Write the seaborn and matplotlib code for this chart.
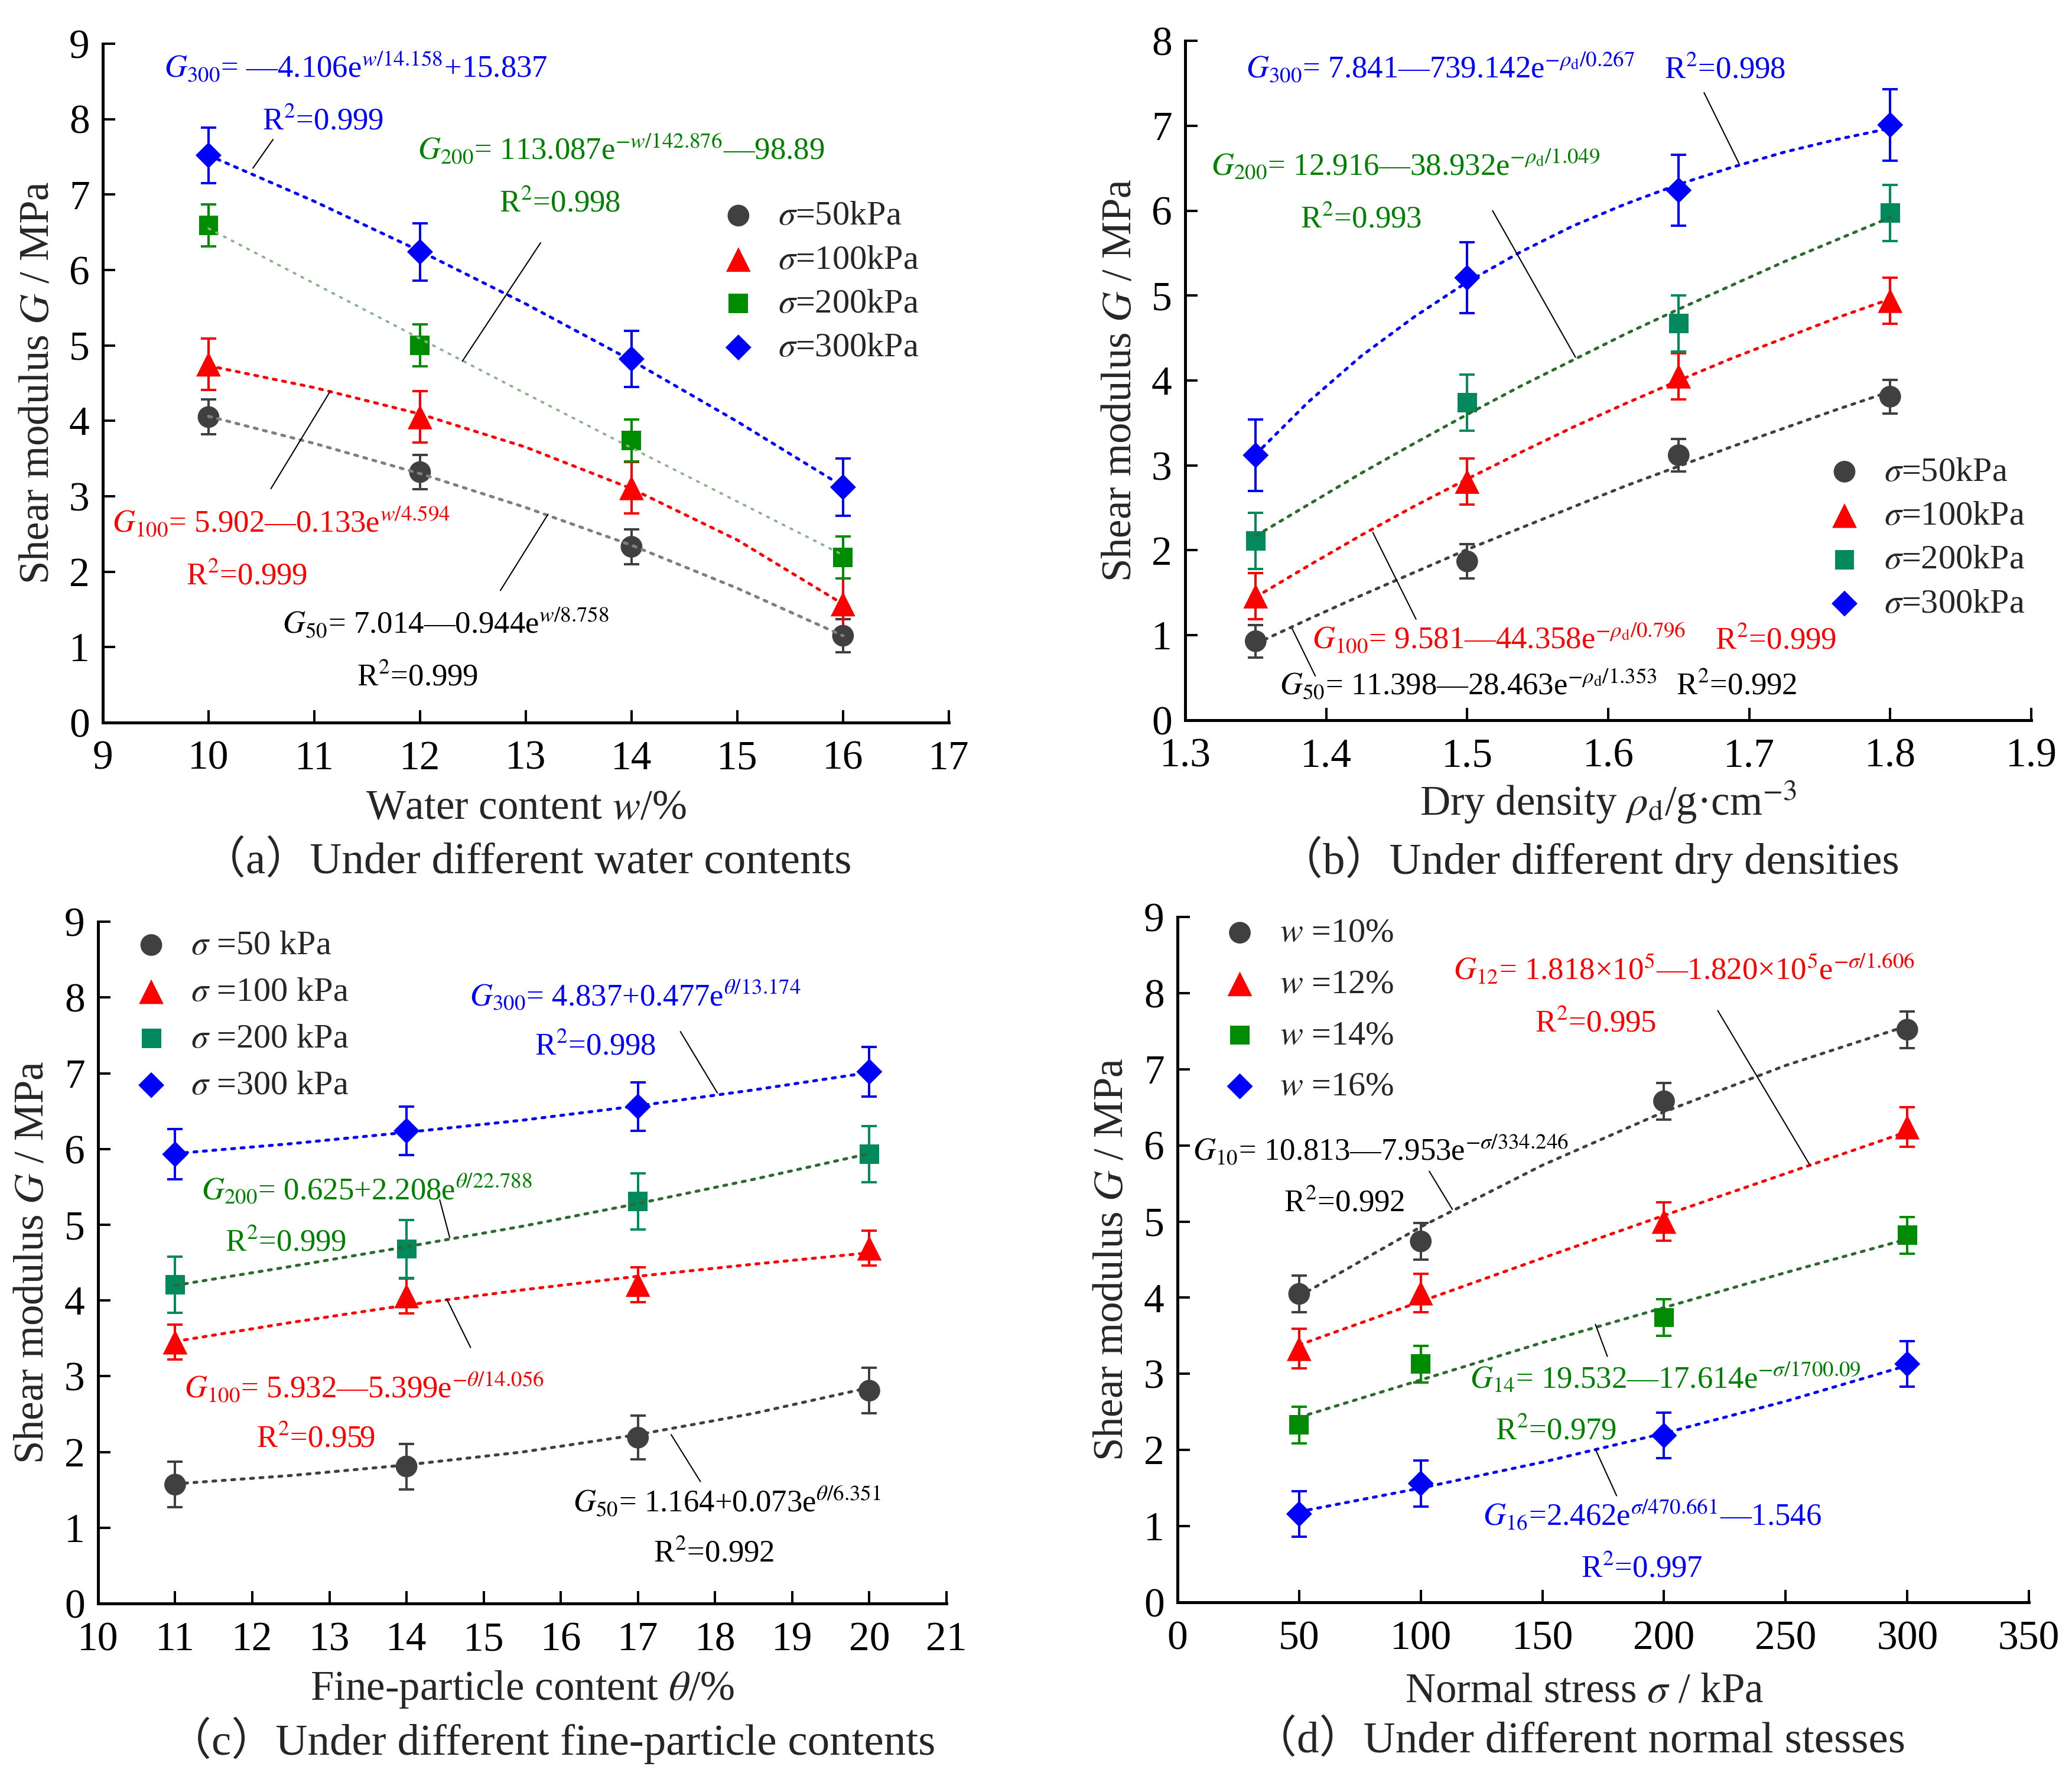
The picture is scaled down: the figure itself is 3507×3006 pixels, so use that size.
import matplotlib
matplotlib.use("Agg")
import matplotlib.pyplot as plt
import seaborn as sns

# ================= (a) different water contents =================
a_x = [10, 12, 14, 16]
a_g50 = [4.05, 3.32, 2.33, 1.15]
a_g100 = [4.75, 4.05, 3.11, 1.57]
a_g200 = [6.59, 5.00, 3.74, 2.19]
a_g300 = [7.52, 6.24, 4.82, 3.12]
a_e50 = [0.23, 0.23, 0.23, 0.22]
a_e100 = [0.34, 0.34, 0.34, 0.34]
a_e200 = [0.28, 0.28, 0.28, 0.28]
a_e300 = [0.37, 0.38, 0.37, 0.38]
a_fx = [10, 11, 12, 13, 14, 15, 16]
a_f50 = [4.06, 3.70, 3.30, 2.85, 2.35, 1.78, 1.15]
a_f100 = [4.73, 4.44, 4.09, 3.65, 3.10, 2.42, 1.57]
a_f200 = [6.55, 5.82, 5.09, 4.36, 3.64, 2.93, 2.22]
a_f300 = [7.52, 6.91, 6.25, 5.55, 4.80, 3.99, 3.13]
a_xticks = [9, 10, 11, 12, 13, 14, 15, 16, 17]
a_yticks = [0, 1, 2, 3, 4, 5, 6, 7, 8, 9]

# ================= (b) different dry densities =================
b_x = [1.35, 1.50, 1.65, 1.80]
b_g50 = [0.93, 1.87, 3.12, 3.81]
b_g100 = [1.46, 2.81, 4.05, 4.94]
b_g200 = [2.11, 3.74, 4.67, 5.97]
b_g300 = [3.12, 5.21, 6.24, 7.01]
b_e50 = [0.19, 0.20, 0.19, 0.20]
b_e100 = [0.27, 0.27, 0.27, 0.27]
b_e200 = [0.33, 0.33, 0.33, 0.33]
b_e300 = [0.42, 0.42, 0.42, 0.42]
b_fx = [1.35, 1.3875, 1.425, 1.4625, 1.5, 1.5375, 1.575, 1.6125, 1.65, 1.6875, 1.725, 1.7625, 1.8]
b_f50 = [0.90, 1.19, 1.47, 1.74, 2.01, 2.26, 2.51, 2.76, 2.99, 3.22, 3.44, 3.66, 3.87]
b_f100 = [1.45, 1.82, 2.18, 2.52, 2.84, 3.15, 3.45, 3.73, 4.00, 4.26, 4.50, 4.74, 4.96]
b_f200 = [2.17, 2.54, 2.91, 3.26, 3.60, 3.93, 4.24, 4.55, 4.84, 5.12, 5.40, 5.66, 5.92]
b_f300 = [3.13, 3.75, 4.29, 4.75, 5.16, 5.51, 5.82, 6.08, 6.31, 6.51, 6.69, 6.84, 6.97]
b_xticks = [1.3, 1.4, 1.5, 1.6, 1.7, 1.8, 1.9]
b_xticklabels = ["1.3", "1.4", "1.5", "1.6", "1.7", "1.8", "1.9"]
b_yticks = [0, 1, 2, 3, 4, 5, 6, 7, 8]

# ================= (c) different fine-particle contents =================
c_x = [11, 14, 17, 20]
c_g50 = [1.57, 1.81, 2.19, 2.81]
c_g100 = [3.45, 4.06, 4.21, 4.69]
c_g200 = [4.21, 4.68, 5.31, 5.93]
c_g300 = [5.93, 6.24, 6.56, 7.02]
c_e50 = [0.30, 0.30, 0.29, 0.30]
c_e100 = [0.23, 0.23, 0.23, 0.23]
c_e200 = [0.37, 0.38, 0.37, 0.37]
c_e300 = [0.33, 0.32, 0.32, 0.33]
c_fx = [11, 12.5, 14, 15.5, 17, 18.5, 20]
c_f50 = [1.58, 1.69, 1.83, 2.00, 2.23, 2.51, 2.85]
c_f100 = [3.46, 3.71, 3.94, 4.14, 4.32, 4.48, 4.63]
c_f200 = [4.20, 4.45, 4.71, 4.98, 5.28, 5.60, 5.94]
c_f300 = [5.94, 6.07, 6.22, 6.38, 6.57, 6.78, 7.01]
c_xticks = [10, 11, 12, 13, 14, 15, 16, 17, 18, 19, 20, 21]
c_yticks = [0, 1, 2, 3, 4, 5, 6, 7, 8, 9]

# ================= (d) different normal stresses =================
d_x = [50, 100, 200, 300]
d_g10 = [4.05, 4.74, 6.58, 7.52]
d_g12 = [3.33, 4.06, 5.00, 6.24]
d_g14 = [2.33, 3.13, 3.74, 4.82]
d_g16 = [1.16, 1.56, 2.19, 3.13]
d_e10 = [0.24, 0.24, 0.24, 0.24]
d_e12 = [0.26, 0.25, 0.25, 0.26]
d_e14 = [0.24, 0.24, 0.24, 0.24]
d_e16 = [0.30, 0.30, 0.30, 0.30]
d_fx = [50, 100, 150, 200, 250, 300]
d_f10 = [4.02, 4.93, 5.74, 6.44, 7.05, 7.57]
d_f12 = [3.38, 3.95, 4.52, 5.08, 5.63, 6.18]
d_f14 = [2.43, 2.92, 3.41, 3.87, 4.33, 4.77]
d_f16 = [1.19, 1.50, 1.84, 2.22, 2.64, 3.11]
d_xticks = [0, 50, 100, 150, 200, 250, 300, 350]
d_yticks = [0, 1, 2, 3, 4, 5, 6, 7, 8, 9]

# legend labels
abs_labels = [r"$\sigma$=50kPa", r"$\sigma$=100kPa", r"$\sigma$=200kPa", r"$\sigma$=300kPa"]
c_labels = [r"$\sigma$ =50 kPa", r"$\sigma$ =100 kPa", r"$\sigma$ =200 kPa", r"$\sigma$ =300 kPa"]
d_labels = [r"$w$ =10%", r"$w$ =12%", r"$w$ =14%", r"$w$ =16%"]

# ---------------- style ----------------
sns.set_theme(style="ticks")
plt.rcParams["font.family"] = ["Liberation Serif", "Noto Sans CJK SC"]
plt.rcParams["mathtext.fontset"] = "stix"
plt.rcParams["axes.facecolor"] = "white"

BLUE = "#0000FF"
RED = "#FF0000"
GRAY = "#404040"
GREEN = "#008C00"
TEAL = "#03895E"
DKGREEN = "#2B6B2B"
TGREEN = "#008000"
BLACK = "#000000"

MARKERS = ["o", "^", "s", "D"]
SIZES = [700, 900, 560, 500]
DASH = (0, (1.0, 2.2))

TICK_FS = 50
LABEL_FS = 51
LEG_FS = 42
ANN_FS = 38
CAP_FS = 54

fig = plt.figure(figsize=(35.07, 30.06), dpi=100)


def panel(rect, x, ys, es, fx, fys, mcols, lcols, lstyles, labels,
          xlim, xticks, xticklabels, ylim, yticks, xlabel, xlab_pos,
          leg_anchor, leg_spacing, leg_textpad, texts, leaders):
    ax = fig.add_axes(rect)
    for y, e, c in zip(ys, es, mcols):
        ax.errorbar(x, y, yerr=e, fmt="none", ecolor=c, elinewidth=2.9,
                    capsize=9.5, capthick=2.9, zorder=2)
    for y, c, m, s, lab in zip(ys, mcols, MARKERS, SIZES, labels):
        sns.scatterplot(x=x, y=y, ax=ax, color=c, marker=m, s=s,
                        linewidth=0, edgecolor="none", label=lab, zorder=3)
    for fy, lc, (lw, ls) in zip(fys, lcols, lstyles):
        sns.lineplot(x=fx, y=fy, ax=ax, color=lc, linewidth=lw, linestyle=ls,
                     dash_capstyle="round", errorbar=None, zorder=4,
                     label="_nolegend_")
    for (x1, y1, x2, y2) in leaders:
        ax.plot([x1, x2], [y1, y2], color=BLACK, lw=1.5, zorder=5)
    for (t, tx, ty, tc) in texts:
        ax.text(tx, ty, t, color=tc, fontsize=ANN_FS, ha="left", va="baseline", zorder=6)

    ax.set_xlim(*xlim)
    ax.set_ylim(*ylim)
    ax.set_xticks(xticks)
    if xticklabels is not None:
        ax.set_xticklabels(xticklabels)
    ax.set_yticks(yticks)
    for side in ["top", "right"]:
        ax.spines[side].set_visible(False)
    for side in ["left", "bottom"]:
        ax.spines[side].set_linewidth(3.6)
        ax.spines[side].set_color("black")
    ax.tick_params(axis="both", direction="in", length=15, width=2.9,
                   labelsize=TICK_FS, colors="black")
    ax.tick_params(axis="x", pad=22)
    ax.tick_params(axis="y", pad=16)
    ax.set_ylabel(r"Shear modulus $G$ / MPa", fontsize=LABEL_FS, va="center")
    ax.yaxis.set_label_coords(-0.077, 0.5)
    ax.set_xlabel(xlabel, fontsize=LABEL_FS, va="center")
    ax.xaxis.set_label_coords(*xlab_pos)
    ax.grid(False)
    ax.legend(loc="upper left", bbox_to_anchor=leg_anchor, frameon=False,
              fontsize=LEG_FS, handlelength=1.0, handletextpad=leg_textpad,
              labelspacing=leg_spacing, borderpad=0, borderaxespad=0,
              scatterpoints=1)
    return ax


STD = (3.6, DASH)
LIGHT = (2.8, (0, (0.8, 3.0)))

# ---------- (a) ----------
panel([0.0496, 0.5932, 0.4083, 0.3822], a_x,
      [a_g50, a_g100, a_g200, a_g300], [a_e50, a_e100, a_e200, a_e300],
      a_fx, [a_f50, a_f100, a_f200, a_f300],
      [GRAY, RED, GREEN, BLUE], ["#7F7F7F", RED, "#8DB38D", BLUE],
      [STD, STD, LIGHT, STD], abs_labels,
      (9, 17), a_xticks, None, (0, 9), a_yticks,
      r"Water content $w$/%", (0.5, -0.126),
      (0.731, 0.769), 0.37, 0.65,
      [(r"$G_{300}$= —4.106e$^{w/14.158}$+15.837", 9.58, 8.55, BLUE),
       (r"R$^{2}$=0.999", 10.51, 7.86, BLUE),
       (r"$G_{200}$= 113.087e$^{-w/142.876}$—98.89", 11.98, 7.46, TGREEN),
       (r"R$^{2}$=0.998", 12.75, 6.77, TGREEN),
       (r"$G_{100}$= 5.902—0.133e$^{w/4.594}$", 9.09, 2.52, RED),
       (r"R$^{2}$=0.999", 9.79, 1.83, RED),
       (r"$G_{50}$= 7.014—0.944e$^{w/8.758}$", 10.70, 1.18, BLACK),
       (r"R$^{2}$=0.999", 11.40, 0.49, BLACK)],
      [(10.42, 7.35, 10.61, 7.73), (12.40, 4.79, 13.14, 6.36),
       (10.59, 3.10, 11.15, 4.39), (12.76, 1.75, 13.21, 2.76)])

# ---------- (b) ----------
panel([0.5720, 0.5945, 0.4083, 0.3825], b_x,
      [b_g50, b_g100, b_g200, b_g300], [b_e50, b_e100, b_e200, b_e300],
      b_fx, [b_f50, b_f100, b_f200, b_f300],
      [GRAY, RED, TEAL, BLUE], [GRAY, RED, DKGREEN, BLUE],
      [STD, STD, STD, STD], abs_labels,
      (1.3, 1.9), b_xticks, b_xticklabels, (0, 8), b_yticks,
      r"Dry density $\rho_{\mathrm{d}}$/g·cm$^{-3}$", (0.5, -0.121),
      (0.759, 0.388), 0.37, 0.65,
      [(r"$G_{300}$= 7.841—739.142e$^{-\rho_{\mathrm{d}}/0.267}$", 1.343, 7.56, BLUE),
       (r"R$^{2}$=0.998", 1.640, 7.56, BLUE),
       (r"$G_{200}$= 12.916—38.932e$^{-\rho_{\mathrm{d}}/1.049}$", 1.3186, 6.42, TGREEN),
       (r"R$^{2}$=0.993", 1.3815, 5.80, TGREEN),
       (r"$G_{100}$= 9.581—44.358e$^{-\rho_{\mathrm{d}}/0.796}$", 1.390, 0.84, RED),
       (r"R$^{2}$=0.999", 1.676, 0.84, RED),
       (r"$G_{50}$= 11.398—28.463e$^{-\rho_{\mathrm{d}}/1.353}$", 1.367, 0.30, BLACK),
       (r"R$^{2}$=0.992", 1.648, 0.30, BLACK)],
      [(1.668, 7.39, 1.6928, 6.555), (1.518, 6.00, 1.5768, 4.275),
       (1.4331, 2.21, 1.4637, 1.19), (1.3758, 1.08, 1.3923, 0.52)])

# ---------- (c) ----------
panel([0.0473, 0.0971, 0.4095, 0.3839], c_x,
      [c_g50, c_g100, c_g200, c_g300], [c_e50, c_e100, c_e200, c_e300],
      c_fx, [c_f50, c_f100, c_f200, c_f300],
      [GRAY, RED, TEAL, BLUE], [GRAY, RED, DKGREEN, BLUE],
      [STD, STD, STD, STD], c_labels,
      (10, 21), c_xticks, None, (0, 9), c_yticks,
      r"Fine-particle content $\theta$/%", (0.5, -0.126),
      (0.0425, 0.988), 0.45, 0.65,
      [(r"$G_{300}$= 4.837+0.477e$^{\theta/13.174}$", 14.82, 7.89, BLUE),
       (r"R$^{2}$=0.998", 15.66, 7.24, BLUE),
       (r"$G_{200}$= 0.625+2.208e$^{\theta/22.788}$", 11.34, 5.33, TGREEN),
       (r"R$^{2}$=0.999", 11.65, 4.65, TGREEN),
       (r"$G_{100}$= 5.932—5.399e$^{-\theta/14.056}$", 11.12, 2.71, RED),
       (r"R$^{2}$=0.959", 12.05, 2.06, RED),
       (r"$G_{50}$= 1.164+0.073e$^{\theta/6.351}$", 16.16, 1.21, BLACK),
       (r"R$^{2}$=0.992", 17.20, 0.55, BLACK)],
      [(17.55, 7.55, 18.03, 6.74), (14.43, 5.33, 14.56, 4.83),
       (14.52, 4.02, 14.83, 3.38), (17.43, 2.23, 17.81, 1.61)])

# ---------- (d) ----------
panel([0.5683, 0.0978, 0.4109, 0.3859], d_x,
      [d_g10, d_g12, d_g14, d_g16], [d_e10, d_e12, d_e14, d_e16],
      d_fx, [d_f10, d_f12, d_f14, d_f16],
      [GRAY, RED, GREEN, BLUE], [GRAY, RED, DKGREEN, BLUE],
      [STD, STD, STD, STD], d_labels,
      (0, 350), d_xticks, None, (0, 9), d_yticks,
      r"Normal stress $\sigma$ / kPa", (0.478, -0.130),
      (0.053, 0.999), 0.58, 0.65,
      [(r"$G_{12}$= 1.818×10$^{5}$—1.820×10$^{5}$e$^{-\sigma/1.606}$", 113.3, 8.18, RED),
       (r"R$^{2}$=0.995", 147.0, 7.49, RED),
       (r"$G_{10}$= 10.813—7.953e$^{-\sigma/334.246}$", 6.3, 5.80, BLACK),
       (r"R$^{2}$=0.992", 43.6, 5.13, BLACK),
       (r"$G_{14}$= 19.532—17.614e$^{-\sigma/1700.09}$", 120.1, 2.81, TGREEN),
       (r"R$^{2}$=0.979", 130.7, 2.135, TGREEN),
       (r"$G_{16}$=2.462e$^{\sigma/470.661}$—1.546", 125.5, 1.01, BLUE),
       (r"R$^{2}$=0.997", 165.8, 0.33, BLUE)],
      [(222.1, 7.77, 260.0, 5.74), (103.5, 5.66, 113.0, 5.16),
       (171.8, 3.65, 176.7, 3.23), (171.8, 2.01, 180.5, 1.40)])

CAP_FAM = ["Liberation Serif", "Noto Sans CJK SC"]
fig.text(0.254, 0.515, "（a）Under different water contents", ha="center", va="center",
         fontsize=CAP_FS, family=CAP_FAM)
fig.text(0.767, 0.516, "（b）Under different dry densities", ha="center", va="center",
         fontsize=CAP_FS, family=CAP_FAM)
fig.text(0.266, 0.020, "（c）Under different fine-particle contents", ha="center", va="center",
         fontsize=CAP_FS, family=CAP_FAM)
fig.text(0.762, 0.020, "（d）Under different normal stesses", ha="center", va="center",
         fontsize=CAP_FS, family=CAP_FAM)

fig.savefig("out.png", dpi=100, facecolor="white")
